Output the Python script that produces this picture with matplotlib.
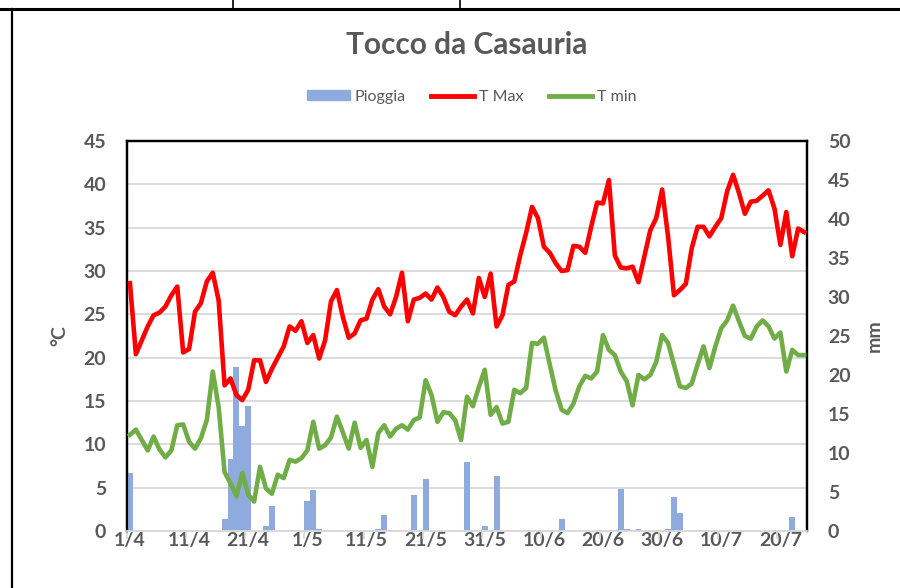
import numpy as np
import matplotlib.pyplot as plt
from matplotlib.lines import Line2D
from matplotlib.patches import Patch

plt.rcParams['font.family'] = ['Lato', 'DejaVu Sans']

# daily series, 1 April -> 24 July (index = days since 1/4)
t_max = [28.6, 20.4, 22.0, 23.6, 24.9, 25.2, 25.9, 27.2, 28.2, 20.6,
         21.0, 25.3, 26.3, 28.8, 29.8, 26.6, 16.8, 17.6, 15.7, 15.1,
         16.3, 19.7, 19.7, 17.2, 18.7, 20.0, 21.3, 23.6, 23.1, 24.2,
         21.7, 22.6, 19.9, 22.0, 26.5, 27.8, 24.7, 22.3, 22.8, 24.3,
         24.5, 26.7, 27.9, 25.9, 25.0, 27.0, 29.8, 24.2, 26.7, 26.9,
         27.4, 26.7, 28.1, 27.0, 25.3, 24.9, 25.9, 26.7, 25.1, 29.2,
         27.0, 29.7, 23.6, 24.9, 28.4, 28.8, 31.8, 34.4, 37.4, 36.1,
         32.8, 32.1, 30.9, 30.0, 30.1, 32.9, 32.8, 32.1, 35.1, 37.9,
         37.8, 40.5, 31.8, 30.4, 30.3, 30.5, 28.7, 31.7, 34.7, 36.1,
         39.4, 34.0, 27.2, 27.8, 28.5, 32.6, 35.1, 35.1, 34.0, 35.1,
         36.1, 39.2, 41.1, 39.0, 36.6, 38.0, 38.1, 38.7, 39.3, 37.2,
         33.0, 36.8, 31.7, 34.9, 34.5]

t_min = [11.1, 11.7, 10.5, 9.3, 10.9, 9.4, 8.5, 9.3, 12.2, 12.3,
         10.3, 9.5, 10.7, 12.8, 18.4, 14.3, 6.8, 5.5, 4.0, 6.7,
         4.2, 3.4, 7.4, 4.9, 4.3, 6.5, 6.1, 8.2, 8.0, 8.4,
         9.3, 12.6, 9.5, 9.9, 10.8, 13.2, 11.4, 9.5, 12.5, 9.6,
         10.5, 7.4, 11.3, 12.2, 10.9, 11.8, 12.2, 11.7, 12.8, 13.1,
         17.4, 15.7, 12.6, 13.7, 13.6, 12.8, 10.5, 15.5, 14.4, 16.6,
         18.6, 13.4, 14.3, 12.4, 12.6, 16.3, 15.9, 16.5, 21.7, 21.6,
         22.3, 19.2, 16.2, 14.0, 13.6, 14.7, 16.7, 17.9, 17.6, 18.4,
         22.6, 20.9, 20.3, 18.4, 17.3, 14.5, 18.0, 17.5, 18.0, 19.5,
         22.6, 21.7, 19.2, 16.7, 16.5, 17.0, 19.2, 21.3, 18.8, 21.3,
         23.4, 24.3, 26.0, 24.2, 22.5, 22.2, 23.6, 24.3, 23.6, 22.2,
         22.9, 18.4, 20.9, 20.3, 20.3]

# rain (mm), only the days with rain
rain_day = [0, 16, 17, 18, 19, 20, 23, 24, 30, 31, 32, 42, 43, 48, 50,
            57, 60, 62, 73, 83, 84, 86, 91, 92, 93, 112]
rain_mm = [7.4, 1.6, 9.2, 21.0, 13.5, 16.0, 0.7, 3.2, 3.8, 5.3, 0.3, 0.2, 2.0, 4.6, 6.7,
           8.8, 0.6, 7.0, 1.6, 5.4, 0.2, 0.2, 0.3, 4.4, 2.3, 1.8]

date_labels = ['1/4', '11/4', '21/4', '1/5', '11/5', '21/5', '31/5',
               '10/6', '20/6', '30/6', '10/7', '20/7']

GREY = '#595959'
days = np.arange(len(t_max))
label_pos = np.arange(len(date_labels)) * 10

fig = plt.figure(figsize=(9, 5.88), dpi=100)
rect = [127 / 900, 1 - 531 / 588, 680 / 900, 390 / 588]

ax = fig.add_axes(rect)          # left axis + grid
ax_rain = ax.twinx()             # right axis, bars
ax_t = ax.twinx()                # temperature lines on top

# bars
ax_rain.bar(rain_day, rain_mm, width=1.0, color='#8FAADC', zorder=2)
ax_rain.set_ylim(0, 50)
ax_rain.set_yticks(np.arange(0, 51, 5))

# lines
ax_t.plot(days, t_max, color='#FF0000', lw=3.3, solid_joinstyle='round')
ax_t.plot(days, t_min, color='#70AD47', lw=3.3, solid_joinstyle='round')
ax_t.set_ylim(0, 45)
ax_t.axis('off')

ax.set_ylim(0, 45)
ax.set_yticks(np.arange(0, 46, 5))
ax.set_xlim(-0.5, len(days) - 0.5)
ax.grid(axis='y', color='#D9D9D9', lw=1.3)
ax.set_axisbelow(True)

# x ticks: labels centred on the date, tick marks at slot edge
ax.set_xticks(label_pos)
ax.set_xticklabels(date_labels)
ax.set_xticks(label_pos - 0.5, minor=True)
ax.tick_params(axis='x', which='major', length=0, pad=1)
ax.tick_params(axis='x', which='minor', length=6, color='#D9D9D9', width=1.3)

for a in (ax, ax_rain):
    a.tick_params(axis='y', length=0, pad=15)
    for lab in a.get_yticklabels() + a.get_xticklabels():
        lab.set_fontsize(14)
        lab.set_fontweight('bold')
        lab.set_color(GREY)

for a in (ax, ax_rain, ax_t):
    a.spines['bottom'].set_color('#D9D9D9')
    a.spines['bottom'].set_linewidth(1.3)
    for s in ('left', 'right', 'top'):
        a.spines[s].set_color('black')
        a.spines[s].set_linewidth(1.6)

ax.set_ylabel('°C', fontsize=14, fontweight='bold', color=GREY, labelpad=11)
ax_rain.set_ylabel('mm', fontsize=14, fontweight='bold', color=GREY, labelpad=11)

fig.text(0.519, 1 - 45 / 588, 'Tocco da Casauria', ha='center', va='center',
         fontsize=21.5, fontweight='bold', color=GREY)

handles = [Patch(color='#8FAADC'),
           Line2D([], [], color='#FF0000', lw=3.5),
           Line2D([], [], color='#70AD47', lw=3.5)]
fig.legend(handles, ['Pioggia', 'T Max', 'T min'], loc='center',
           bbox_to_anchor=(0.524, 1 - 97 / 588), ncol=3, frameon=False,
           fontsize=11.5, labelcolor=GREY, handlelength=2.7, handleheight=0.6,
           handletextpad=0.3, columnspacing=1.6)

# page/table border lines around the chart
fig.add_artist(Line2D([0, 1], [1 - 9 / 588] * 2, color='black', lw=2.2))
fig.add_artist(Line2D([12 / 900] * 2, [0, 1 - 9 / 588], color='black', lw=1.6))
fig.add_artist(Line2D([233 / 900] * 2, [1 - 9 / 588, 1], color='black', lw=1.2))
fig.add_artist(Line2D([460 / 900] * 2, [1 - 9 / 588, 1], color='black', lw=1.2))

fig.savefig('out.png', dpi=100)
